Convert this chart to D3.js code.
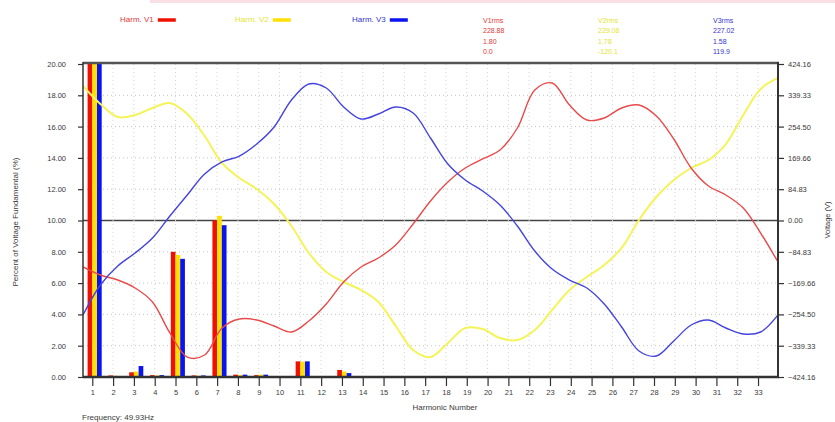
<!DOCTYPE html>
<html>
<head>
<meta charset="utf-8">
<script src="https://cdn.jsdelivr.net/npm/d3@7/dist/d3.min.js"></script>
<style>
  html, body { margin: 0; padding: 0; background: #fff; }
  svg { display: block; font-family: "Liberation Sans", Arial, sans-serif; }
</style>
</head>
<body>
<svg id="chart" width="835" height="422"></svg>
<script>
// Harmonic numbers shown on the bottom axis
const harmonics = [1,2,3,4,5,6,7,8,9,10,11,12,13,14,15,16,17,18,19,20,21,22,23,24,25,26,27,28,29,30,31,32,33];

// Harmonic magnitudes, percent of the fundamental, per phase
const harmV1 = [100, 0.10, 0.30, 0.12, 8.00, 0.10, 10.00, 0.15, 0.12, 0.05, 1.00, 0.04, 0.45, 0.03, 0.03, 0.02, 0.03, 0.02, 0.02, 0.02, 0.02, 0.02, 0.02, 0.02, 0.02, 0.02, 0.02, 0.02, 0.02, 0.02, 0.02, 0.02, 0.02];
const harmV2 = [100, 0.08, 0.35, 0.10, 7.80, 0.08, 10.30, 0.12, 0.15, 0.05, 0.98, 0.04, 0.35, 0.03, 0.02, 0.02, 0.02, 0.02, 0.02, 0.02, 0.02, 0.02, 0.02, 0.02, 0.02, 0.02, 0.02, 0.02, 0.02, 0.02, 0.02, 0.02, 0.02];
const harmV3 = [100, 0.06, 0.70, 0.12, 7.55, 0.10, 9.70, 0.15, 0.15, 0.05, 1.00, 0.04, 0.25, 0.03, 0.02, 0.02, 0.02, 0.02, 0.02, 0.02, 0.02, 0.02, 0.02, 0.02, 0.02, 0.02, 0.02, 0.02, 0.02, 0.02, 0.02, 0.02, 0.02];

// One cycle of each phase voltage (V), evenly spaced samples across the plot
const waveV1 = [-126.0, -147.7, -161.3, -182.9, -220.9, -304.9, -370.0, -364.5, -291.4, -267.0, -269.7, -285.9, -302.2, -272.4, -226.3, -166.7, -126.0, -101.6, -66.4, -9.5, 52.9, 104.3, 142.3, 166.7, 191.1, 250.7, 353.7, 372.7, 313.0, 272.4, 277.8, 304.9, 313.0, 283.2, 220.9, 142.3, 93.5, 69.1, 33.9, -33.9, -112.5];
const waveV2 = [364.5, 315.7, 280.5, 285.9, 304.9, 318.5, 288.6, 229.0, 155.8, 115.2, 85.4, 44.7, -14.9, -88.1, -139.6, -166.7, -188.4, -220.9, -285.9, -351.0, -370.0, -332.0, -291.4, -294.1, -318.5, -323.9, -296.8, -242.6, -188.4, -153.1, -120.6, -74.5, 1.4, 63.7, 109.8, 142.3, 164.0, 207.3, 285.9, 356.4, 386.2];
const waveV3 = [-256.1, -174.8, -123.3, -88.1, -47.4, 12.2, 69.1, 126.0, 158.6, 174.8, 207.3, 253.4, 326.6, 370.0, 359.1, 307.6, 275.1, 288.6, 307.6, 291.4, 223.6, 153.1, 109.8, 80.0, 42.0, -14.9, -82.7, -131.5, -161.3, -182.9, -226.3, -288.6, -353.7, -367.2, -326.6, -283.2, -269.7, -291.4, -307.6, -302.2, -256.1];

// Axis tick values
const leftTicks = [0, 2, 4, 6, 8, 10, 12, 14, 16, 18, 20];
const rightTicks = [-424.16, -339.33, -254.50, -169.66, -84.83, 0, 84.83, 169.66, 254.50, 339.33, 424.16];

// Legend and readout text
const phaseNames = ["Harm. V1", "Harm. V2", "Harm. V3"];
const rmsLabels = ["V1rms", "V2rms", "V3rms"];
const rmsValues = ["228.88", "229.08", "227.02"];
const thdValues = ["1.80", "1.78", "1.58"];
const angleValues = ["0.0", "-120.1", "119.9"];
const frequencyText = "Frequency: 49.93Hz";

const barColors = ["#f01000", "#ffe000", "#0a14f0"];
const lineColors = ["#e84a4a", "#f4f45a", "#4444dc"];
const textColors = ["#e03838", "#e4e430", "#3535cc"];

const svg = d3.select("#chart");
const L = 83, R = 778, T = 64, B = 377;

const x = d3.scaleLinear().domain([0.553, 33.96]).range([L, R]);
const yL = d3.scaleLinear().domain([0, 20]).range([B, T]);
const yR = d3.scaleLinear().domain([-424.16, 424.16]).range([B, T]);
const xw = d3.scaleLinear().domain([0, waveV1.length - 1]).range([L, R]);

svg.append("defs").append("clipPath").attr("id", "plotClip")
  .append("rect").attr("x", L).attr("y", T - 2).attr("width", R - L).attr("height", B - T + 2);

// faint band along the very top edge
svg.append("rect").attr("x", 150).attr("y", 0).attr("width", 685).attr("height", 3)
  .attr("fill", "#fae0e4");

// grid
const grid = svg.append("g");
grid.selectAll("line.h").data(leftTicks.slice(1, -1)).join("line")
  .attr("x1", L).attr("x2", R)
  .attr("y1", d => yL(d)).attr("y2", d => yL(d))
  .attr("stroke", d => d === 10 ? "#444" : "#c4c4c4")
  .attr("stroke-width", d => d === 10 ? 1.6 : 1)
  .attr("stroke-dasharray", d => d === 10 ? null : "1,3");
grid.selectAll("line.v").data(harmonics).join("line")
  .attr("x1", d => x(d)).attr("x2", d => x(d))
  .attr("y1", T).attr("y2", B)
  .attr("stroke", "#d4d4d4").attr("stroke-width", 1).attr("stroke-dasharray", "1,3");

const plot = svg.append("g").attr("clip-path", "url(#plotClip)");

// harmonic bars
const series = [harmV1, harmV2, harmV3];
const bw = 4.7;
series.forEach((vals, k) => {
  plot.append("g").selectAll("rect").data(harmonics).join("rect")
    .attr("x", (h) => x(h) + (k - 1) * bw)
    .attr("y", (h, i) => yL(vals[i]))
    .attr("width", bw)
    .attr("height", (h, i) => Math.max(0, B - yL(vals[i])))
    .attr("fill", barColors[k]);
});

// voltage waveforms
const waves = [waveV1, waveV2, waveV3];
const line = d3.line().x((d, i) => xw(i)).y(d => yR(d)).curve(d3.curveCatmullRom.alpha(0.5));
[1, 0, 2].forEach(k => {
  plot.append("path").datum(waves[k])
    .attr("d", line)
    .attr("fill", "none")
    .attr("stroke", lineColors[k])
    .attr("stroke-width", k === 1 ? 2 : 1.4);
});

// axes
const axisStyle = g => {
  g.selectAll("text").attr("font-size", 7.5).attr("fill", "#3a3a3a");
  g.selectAll("line").attr("stroke", "#333").attr("stroke-width", 1.2);
  g.select(".domain").remove();
};
svg.append("g").attr("transform", `translate(${L},0)`)
  .call(d3.axisLeft(yL).tickValues(leftTicks).tickFormat(d3.format(".2f")).tickSize(5).tickPadding(12))
  .call(axisStyle);
svg.append("g").attr("transform", `translate(${R},0)`)
  .call(d3.axisRight(yR).tickValues(rightTicks).tickFormat(d3.format(".2f")).tickSize(6).tickPadding(4))
  .call(axisStyle);
svg.append("g").attr("transform", `translate(0,${B})`)
  .call(d3.axisBottom(x).tickValues(harmonics).tickFormat(d3.format("d")).tickSize(9).tickPadding(4))
  .call(axisStyle);

// frame
svg.append("line").attr("x1", L).attr("x2", R + 1).attr("y1", T - 1).attr("y2", T - 1)
  .attr("stroke", "#555").attr("stroke-width", 2.5);
svg.append("line").attr("x1", R).attr("x2", R).attr("y1", T - 2).attr("y2", B + 1)
  .attr("stroke", "#333").attr("stroke-width", 2);
svg.append("line").attr("x1", L).attr("x2", R + 1).attr("y1", B).attr("y2", B)
  .attr("stroke", "#333").attr("stroke-width", 2.5);
svg.append("line").attr("x1", L).attr("x2", L).attr("y1", T - 2).attr("y2", B + 1)
  .attr("stroke", "#333").attr("stroke-width", 1.5);

// axis titles
svg.append("text").attr("transform", "translate(16,222) rotate(-90)")
  .attr("text-anchor", "middle").attr("dominant-baseline", "middle")
  .attr("font-size", 8).attr("fill", "#3a3a3a").text("Percent of Voltage Fundamental (%)");
svg.append("text").attr("transform", "translate(828,220) rotate(-90)")
  .attr("text-anchor", "middle").attr("dominant-baseline", "middle")
  .attr("font-size", 7.5).attr("fill", "#3a3a3a").text("Voltage (V)");
svg.append("text").attr("x", 445).attr("y", 408)
  .attr("text-anchor", "middle").attr("dominant-baseline", "middle")
  .attr("font-size", 8).attr("fill", "#3a3a3a").text("Harmonic Number");
svg.append("text").attr("x", 82).attr("y", 418)
  .attr("dominant-baseline", "middle")
  .attr("font-size", 8).attr("fill", "#3a3a3a").text(frequencyText);

// legend
const legendX = [120, 235, 352];
phaseNames.forEach((name, k) => {
  const g = svg.append("g");
  const t = g.append("text").attr("x", legendX[k]).attr("y", 20)
    .attr("dominant-baseline", "middle").attr("font-size", 8)
    .attr("fill", textColors[k]).text(name);
  const w = t.node().getComputedTextLength();
  g.append("line").attr("x1", legendX[k] + w + 4).attr("x2", legendX[k] + w + 22)
    .attr("y1", 20).attr("y2", 20)
    .attr("stroke", barColors[k]).attr("stroke-width", 3.5);
});

// per-phase readout
const readX = [483, 598, 713];
const readY = [21, 31.5, 42, 52];
rmsLabels.forEach((lab, k) => {
  [lab, rmsValues[k], thdValues[k], angleValues[k]].forEach((s, r) => {
    svg.append("text").attr("x", readX[k]).attr("y", readY[r])
      .attr("dominant-baseline", "middle").attr("font-size", 7)
      .attr("fill", textColors[k]).text(s);
  });
});
</script>
</body>
</html>
